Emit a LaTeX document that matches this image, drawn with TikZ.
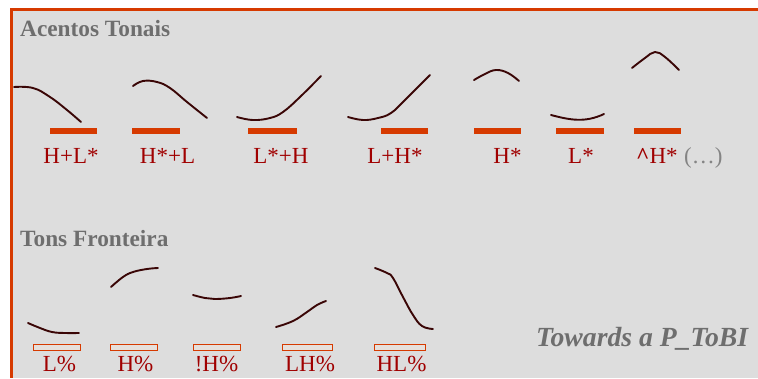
\documentclass[tikz,border=0pt]{standalone}
\usepackage{fontspec}
\setmainfont{Liberation Serif}
\definecolor{frameor}{HTML}{D63A00}
\definecolor{barfill}{HTML}{E6E0DC}
\definecolor{lblred}{HTML}{A00000}
\definecolor{ttlgray}{HTML}{6E6E6E}
\definecolor{curvec}{HTML}{3A0606}
\definecolor{bggray}{HTML}{DDDDDD}
\tikzset{
  ttl/.style={anchor=base west, inner sep=0pt, text=ttlgray, font=\fontsize{23.3}{27}\selectfont\bfseries},
  lbl/.style={anchor=base, inner sep=0pt, text=lblred, font=\fontsize{23}{27}\selectfont},
  lblw/.style={anchor=base west, inner sep=0pt, text=lblred, font=\fontsize{23}{27}\selectfont},
  contour/.style={draw=curvec, line width=1.9pt, line cap=round, smooth, tension=0.7},
  accbar/.style={fill=frameor},
  bndbar/.style={draw=frameor, line width=1pt, fill=barfill},
}
\begin{document}
\begin{tikzpicture}[x=1pt,y=-1pt]
\useasboundingbox (0,0) rectangle (758,378);
\fill[white] (0,0) rectangle (758,378);
\fill[bggray] (11,8.5) rectangle (758,378);
\draw[frameor, line width=2.7pt] (10.3,9.7) -- (758,9.7);
\draw[frameor, line width=2.7pt] (11.7,8.4) -- (11.7,378);

% titles
\node[ttl] (t1) at (20,36.5) {Acentos Tonais};
\node[ttl] (t2) at (20,246) {Tons Fronteira};
\node[anchor=base west, inner sep=0pt, text=ttlgray, font=\fontsize{27.7}{31}\selectfont\bfseries\itshape] (t3) at (536,346) {Towards a P\_ToBI};

% pitch accents: contours
\draw[contour] plot coordinates {(14,87) (33,88) (50,97) (67,110) (81,122)};
\draw[contour] plot coordinates {(133,86) (143,81) (157,82) (170,88) (187,102) (207,118)};
\draw[contour] plot coordinates {(237,117) (253,120) (270,118) (283,112) (300,97) (321,76)};
\draw[contour] plot coordinates {(348,117) (363,120) (378,118) (391,113) (405,100) (430,75)};
\draw[contour] plot coordinates {(474,80) (485,74) (496,70) (508,73) (519,81)};
\draw[draw=curvec, line width=1.9pt, line cap=round] (551,115) .. controls (570,120) and (585,123) .. (604,114);
\draw[contour] plot coordinates {(632,68) (645,58) (655,52) (665,57) (679,70)};

% pitch accents: bars
\fill[accbar] (50,128) rectangle (97,133.5);
\fill[accbar] (132,128) rectangle (180,133.5);
\fill[accbar] (248,128) rectangle (297,133.5);
\fill[accbar] (381,128) rectangle (428,133.5);
\fill[accbar] (474,128) rectangle (521,133.5);
\fill[accbar] (556,128) rectangle (604,133.5);
\fill[accbar] (634,128) rectangle (681,133.5);

% pitch accents: labels
\node[lbl] (a1) at (71,163) {H+L*};
\node[lbl] (a2) at (167.5,163) {H*+L};
\node[lbl] (a3) at (281,163) {L*+H};
\node[lbl] (a4) at (395,163) {L+H*};
\node[lbl] (a5) at (507.5,163) {H*};
\node[lbl] (a6) at (581,163) {L*};
\node[lblw] (a7) at (636,163) {\textbf{\^{}}H*};
\node[anchor=base west, inner sep=0pt, text=ttlgray!85, font=\fontsize{23}{27}\selectfont] (a8) at (684,163) {(\dots)};

% boundary tones: contours
\draw[contour] plot coordinates {(28,323) (40,328) (52,332) (65,333) (79,333)};
\draw[contour] plot coordinates {(111,287) (123,277) (133,272) (147,269) (158,268)};
\draw[contour] plot coordinates {(193,295) (205,298) (215,299) (230,298) (241,296)};
\draw[contour] plot coordinates {(276,327) (293,321) (307,312) (317,305) (326,301)};
\draw[contour] plot coordinates {(375,268) (387,273) (393,278) (403,297) (413,315) (422,326) (433,329)};

% boundary tones: bars
\draw[bndbar] (33.5,344.5) rectangle (80.5,350.5);
\draw[bndbar] (110.5,344.5) rectangle (157.5,350.5);
\draw[bndbar] (193.5,344.5) rectangle (240.5,350.5);
\draw[bndbar] (282,344.5) rectangle (332,350.5);
\draw[bndbar] (374.5,344.5) rectangle (425,350.5);

% boundary tones: labels
\node[lbl] (b1) at (59.5,371) {L\%};
\node[lbl] (b2) at (135.5,371) {H\%};
\node[lbl] (b3) at (216.5,371) {!H\%};
\node[lbl] (b4) at (310,371) {LH\%};
\node[lbl] (b5) at (401.5,371) {HL\%};
\end{tikzpicture}
\end{document}
